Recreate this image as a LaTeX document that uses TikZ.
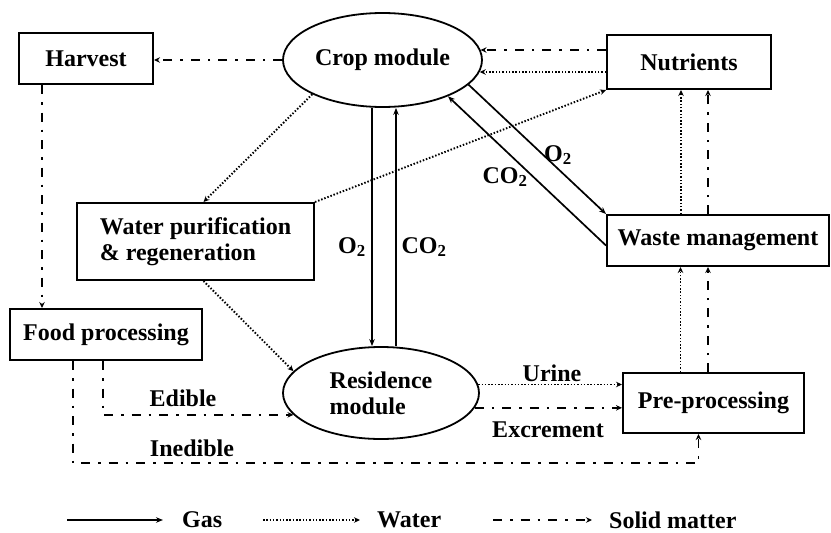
\documentclass[tikz,border=0pt]{standalone}
\usepackage{fontspec}
\setmainfont{Liberation Serif}
\usetikzlibrary{shapes.geometric,arrows.meta}

\begin{document}
\begin{tikzpicture}[x=1pt,y=-1pt,
	every node/.style={font=\fontsize{24}{26}\selectfont\bfseries},
	box/.style={draw,line width=2pt,rectangle,inner sep=0pt},
	module/.style={draw,line width=1.8pt,ellipse,inner sep=0pt,align=left},
	gas/.style={line width=1.7pt,-{Stealth[length=7pt,width=5.5pt]}},
	water/.style={line width=1.9pt,dash pattern=on 1.5pt off 1.8pt,-{Stealth[length=6pt,width=5.5pt]}},
	solidm/.style={line width=1.8pt,dash pattern=on 9pt off 8pt on 2.5pt off 8pt,-{Stealth[length=6pt,width=5.5pt]}},
	lbl/.style={inner sep=1pt}]
				\useasboundingbox (0,0) rectangle (831,533);
				% blocks
				\node[box,minimum width=134,minimum height=51] (harvest) at (86,58.5) {Harvest};
				\node[module,minimum width=199,minimum height=94] (crop) at (382.5,60) {Crop module};
				\node[box,minimum width=164,minimum height=54] (nutr) at (689,62) {Nutrients};
				\node[box,minimum width=237,minimum height=77,align=left] (water) at (195.5,241.5) {Water purification\\\& regeneration};
				\node[box,minimum width=192,minimum height=51] (food) at (106,334.5) {Food processing};
				\node[module,minimum width=196,minimum height=92] (res) at (381,393) {Residence\\module};
				\node[box,minimum width=222,minimum height=51] (waste) at (718,240.5) {Waste management};
				\node[box,minimum width=181,minimum height=60] (pre) at (713.5,403) {Pre-processing};
				% gas
				\draw[gas] ([xshift=-10.5]crop.south) -- ([xshift=-10.5]crop.south |- res.north);
				\draw[gas] ([xshift=13.5]crop.south |- res.north) -- ([xshift=13.5]crop.south);
				\draw[gas] (crop.-16) -- (waste.north west);
				\draw[gas] ([yshift=-5]waste.west) -- (crop.-29);
				\node[lbl] (o2a) at (352,247) {O\textsubscript{2}};
				\node[lbl] (co2a) at (424,247) {CO\textsubscript{2}};
				\node[lbl] (o2b) at (558,155) {O\textsubscript{2}};
				\node[lbl] (co2b) at (505,177) {CO\textsubscript{2}};
				% water
				\draw[water] (crop.206) -- ([xshift=8]water.north);
				\draw[water] (water.north east) -- (nutr.south west);
				\draw[water] ([xshift=8]water.south) -- (res.166);
				\draw[water] ([yshift=-10]nutr.west) -- ([yshift=-10]nutr.west -| crop.-7);
				\draw[water] (res.5) -- (res.5 -| pre.west);
				\draw[water] ([xshift=-33]pre.north) -- ([xshift=-33]pre.north |- waste.south);
				\draw[water] ([xshift=-37]waste.north) -- ([xshift=-37]waste.north |- nutr.south);
				% solid matter
				\draw[solidm] (crop.west) -- (crop.west -| harvest.east);
				\draw[solidm] ([xshift=-44]harvest.south) -- ([xshift=-44]harvest.south |- food.north);
				\draw[solidm] ([yshift=12]nutr.west) -- ([yshift=12]nutr.west -| crop.6);
				\draw[solidm] ([xshift=-3]food.south) |- (res.194);
				\draw[solidm] ([xshift=-33]food.south) -- ++(0,102) -| ([xshift=-15]pre.south);
				\draw[solidm] (res.-9) -- (res.-9 -| pre.west);
				\draw[solidm] ([xshift=-5.5]pre.north) -- ([xshift=-5.5]pre.north |- waste.south);
				\draw[solidm] ([xshift=-10]waste.north) -- ([xshift=-10]waste.north |- nutr.south);
				\node[lbl] (edible) at (183,398) {Edible};
				\node[lbl] (inedible) at (192,448) {Inedible};
				\node[lbl] (urine) at (552,373) {Urine};
				\node[lbl] (excrement) at (548,430) {Excrement};
				% legend
				\coordinate (gasA) at (67,520);
				\coordinate (gasB) at (163,520);
				\coordinate (waterA) at (263,520);
				\coordinate (waterB) at (360,520);
				\coordinate (solidA) at (493,520);
				\coordinate (solidB) at (592,520);
				\draw[gas] (gasA) -- (gasB);
				\draw[water] (waterA) -- (waterB);
				\draw[solidm] (solidA) -- (solidB);
				\node[anchor=west,inner sep=0pt] (gaslbl) at (182,520) {Gas};
				\node[anchor=west,inner sep=0pt] (waterlbl) at (377,520) {Water};
				\node[anchor=west,inner sep=0pt] (solidlbl) at (609,520) {Solid matter};
			\end{tikzpicture}
\end{document}
